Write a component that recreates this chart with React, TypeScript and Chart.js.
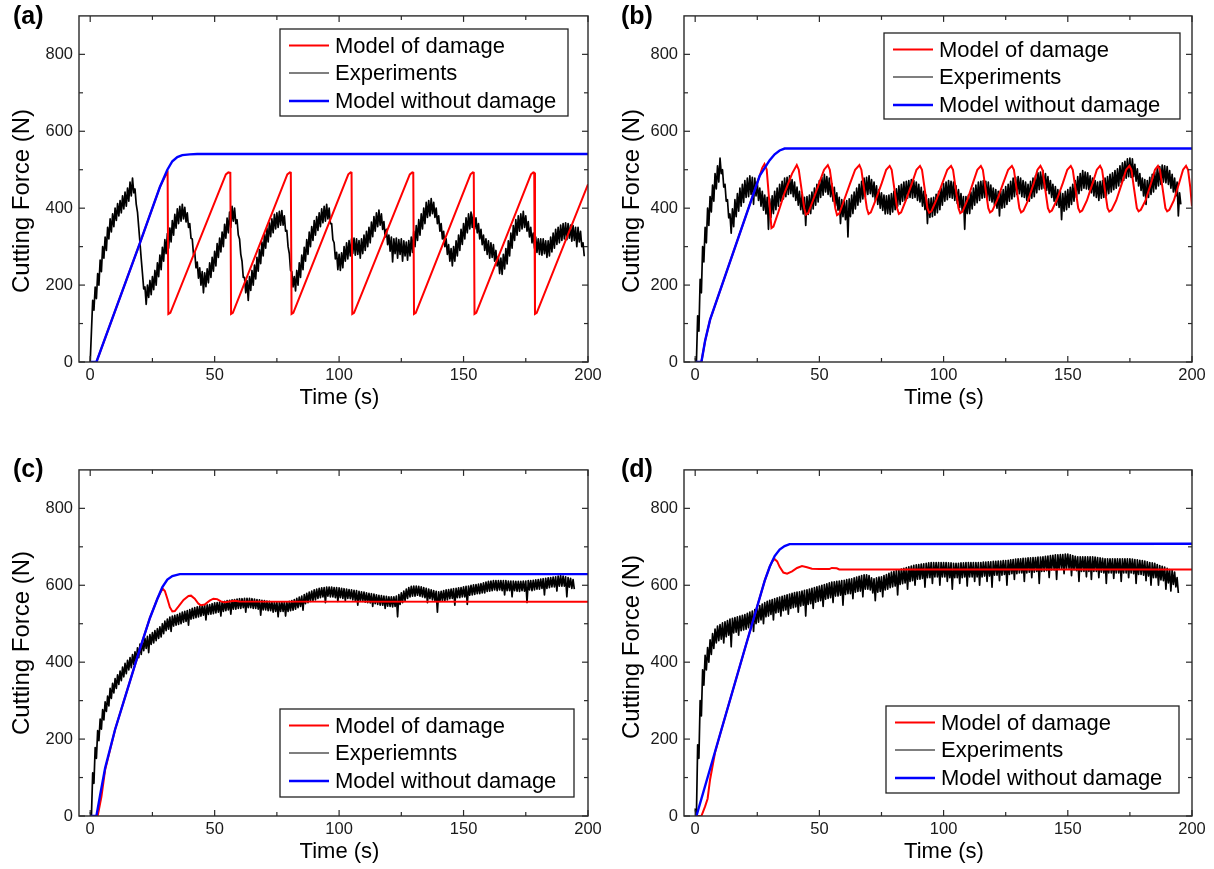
import React, { useEffect, useRef } from "react";
import { Chart, registerables } from "chart.js";

Chart.register(...registerables);

// ---------- axes ----------
const X_MIN = -4.5;
const X_MAX = 200;
const Y_MIN = 0;
const Y_MAX = 900;
const xMajorTicks = [0, 50, 100, 150, 200];
const xMinorTicks = [25, 75, 125, 175];
const yMajorTicks = [0, 200, 400, 600, 800];
const yMinorTicks = [100, 300, 500, 700];

const xTitle = "Time (s)";
const yTitle = "Cutting Force (N)";
const panelTags = ["(a)", "(b)", "(c)", "(d)"];
const labelsABD = ["Model of damage", "Experiments", "Model without damage"];
const labelsC = ["Model of damage", "Experiemnts", "Model without damage"];

// ---------- experiments: noisy trace read every 0.5 s from t = 0 ----------
const expStep = 0.5;
const expA = [
  0, 80, 160, 135, 195, 165, 230, 200, 265, 235, 300, 270, 325, 290, 350, 320, 372, 338, 385, 352,
  400, 368, 412, 380, 420, 388, 432, 398, 442, 405, 452, 418, 468, 432, 478, 440, 450, 410, 390, 350,
  310, 268, 230, 190, 195, 150, 200, 168, 212, 175, 222, 188, 238, 200, 258, 222, 278, 240, 298, 262,
  318, 282, 334, 296, 348, 312, 368, 330, 384, 348, 398, 360, 405, 366, 410, 372, 402, 364, 388, 350,
  360, 322, 320, 280, 285, 245, 260, 218, 245, 200, 235, 180, 232, 196, 242, 206, 258, 220, 272, 236,
  288, 250, 308, 272, 322, 286, 338, 300, 358, 322, 374, 336, 390, 350, 405, 366, 400, 360, 370, 330,
  320, 280, 262, 220, 220, 180, 212, 160, 222, 186, 238, 200, 252, 216, 272, 236, 292, 256, 312, 276,
  332, 296, 348, 312, 362, 326, 372, 336, 384, 346, 388, 350, 392, 356, 394, 356, 380, 340, 342, 300,
  282, 238, 235, 195, 222, 185, 238, 200, 258, 220, 278, 240, 298, 262, 318, 280, 338, 300, 352, 316,
  368, 330, 378, 342, 388, 352, 398, 362, 405, 366, 410, 372, 400, 360, 360, 318, 310, 268, 285, 240,
  280, 238, 284, 245, 300, 262, 310, 268, 316, 276, 320, 282, 322, 278, 320, 280, 316, 270, 320, 282,
  330, 290, 340, 300, 350, 310, 364, 326, 378, 340, 388, 352, 395, 356, 385, 345, 365, 325, 345, 305,
  330, 288, 325, 260, 320, 282, 322, 270, 318, 280, 320, 262, 315, 276, 312, 265, 316, 276, 325, 285,
  340, 300, 355, 316, 370, 330, 385, 346, 400, 360, 415, 376, 420, 380, 425, 386, 415, 376, 400, 360,
  380, 340, 360, 320, 340, 300, 320, 280, 305, 262, 295, 250, 300, 262, 315, 276, 330, 290, 345, 306,
  360, 320, 375, 336, 385, 346, 390, 350, 385, 346, 375, 336, 360, 320, 345, 305, 330, 290, 320, 280,
  315, 270, 310, 272, 305, 262, 290, 250, 275, 230, 270, 228, 280, 242, 295, 255, 315, 276, 335, 296,
  355, 316, 370, 330, 380, 340, 385, 346, 392, 350, 380, 340, 365, 325, 350, 310, 335, 296, 325, 285,
  320, 280, 320, 278, 320, 282, 315, 272, 315, 276, 325, 286, 335, 296, 345, 306, 350, 310, 356, 316,
  360, 320, 362, 318, 360, 322, 356, 314, 355, 316, 350, 300, 350, 312, 340, 300, 310, 275,
];
const expB = [
  10, 0, 120, 80, 215, 180, 300, 260, 350, 310, 400, 355, 430, 390, 460, 418, 490, 450, 510, 468,
  530, 490, 500, 455, 462, 418, 422, 375, 385, 335, 398, 352, 422, 378, 438, 392, 452, 405, 462, 415,
  472, 428, 478, 430, 484, 436, 480, 410, 478, 432, 468, 420, 452, 405, 444, 395, 434, 385, 428, 345,
  424, 376, 432, 386, 444, 396, 452, 405, 462, 418, 470, 424, 478, 430, 480, 436, 484, 438, 474, 430,
  468, 420, 455, 408, 444, 396, 435, 385, 428, 355, 430, 384, 434, 386, 442, 398, 452, 408, 462, 416,
  472, 428, 480, 434, 488, 442, 482, 436, 478, 430, 464, 418, 454, 406, 440, 395, 428, 360, 422, 378,
  418, 370, 420, 325, 424, 378, 434, 386, 442, 398, 452, 408, 462, 416, 470, 424, 478, 430, 480, 436,
  484, 438, 474, 430, 468, 420, 458, 410, 448, 400, 440, 394, 434, 385, 432, 386, 434, 384, 438, 390,
  444, 396, 450, 405, 458, 410, 462, 418, 468, 420, 470, 426, 472, 428, 474, 426, 472, 428, 468, 420,
  462, 416, 454, 405, 444, 396, 434, 360, 424, 376, 426, 378, 428, 382, 436, 388, 444, 396, 452, 408,
  464, 418, 468, 422, 472, 428, 470, 426, 468, 420, 458, 412, 448, 402, 438, 392, 430, 345, 430, 386,
  434, 386, 442, 398, 452, 408, 460, 414, 468, 420, 470, 426, 472, 428, 470, 424, 468, 420, 460, 416,
  452, 408, 448, 400, 444, 380, 444, 400, 448, 402, 456, 410, 462, 418, 470, 424, 478, 430, 480, 436,
  482, 438, 478, 430, 472, 428, 468, 420, 462, 418, 470, 426, 478, 430, 484, 440, 492, 448, 494, 450,
  498, 452, 490, 446, 482, 438, 472, 428, 462, 418, 456, 408, 448, 402, 444, 370, 438, 392, 444, 396,
  448, 402, 454, 410, 462, 418, 472, 428, 482, 438, 490, 446, 498, 452, 494, 450, 492, 448, 484, 440,
  478, 432, 472, 428, 468, 420, 470, 426, 472, 428, 478, 432, 482, 438, 488, 442, 492, 448, 498, 452,
  502, 458, 510, 466, 518, 472, 522, 478, 528, 482, 530, 480, 528, 482, 514, 470, 502, 458, 490, 446,
  478, 432, 474, 410, 472, 428, 480, 436, 488, 442, 494, 450, 502, 458, 508, 462, 512, 468, 510, 466,
  508, 462, 498, 452, 488, 442, 478, 432, 468, 380, 440, 410,
];
const expC = [
  10, 0, 112, 85, 178, 150, 222, 196, 252, 226, 277, 250, 297, 272, 312, 286, 332, 306, 345, 320,
  357, 332, 367, 342, 377, 352, 387, 362, 397, 370, 405, 380, 412, 386, 420, 394, 427, 402, 437, 412,
  447, 420, 455, 430, 462, 436, 467, 425, 472, 446, 477, 450, 482, 456, 487, 462, 492, 466, 500, 474,
  507, 482, 512, 486, 517, 480, 520, 494, 522, 496, 524, 498, 527, 500, 530, 504, 532, 506, 534, 496,
  537, 512, 540, 514, 542, 516, 544, 518, 546, 520, 547, 522, 548, 510, 549, 524, 550, 525, 552, 526,
  554, 528, 555, 530, 556, 520, 557, 532, 558, 534, 560, 536, 561, 525, 562, 538, 563, 538, 564, 540,
  565, 540, 565, 542, 566, 530, 566, 542, 566, 542, 565, 540, 564, 540, 563, 538, 562, 522, 561, 536,
  560, 536, 559, 534, 558, 534, 557, 530, 556, 532, 556, 518, 556, 532, 557, 532, 557, 520, 557, 532,
  558, 534, 560, 535, 563, 538, 566, 542, 569, 545, 572, 535, 576, 552, 579, 555, 582, 558, 585, 560,
  588, 562, 590, 566, 592, 568, 593, 570, 594, 555, 595, 572, 595, 570, 595, 570, 594, 568, 594, 558,
  593, 568, 592, 566, 591, 560, 590, 566, 589, 565, 588, 562, 587, 560, 586, 548, 584, 560, 583, 558,
  582, 556, 580, 555, 579, 554, 578, 545, 577, 552, 575, 550, 574, 548, 573, 548, 572, 540, 571, 546,
  570, 545, 570, 544, 570, 545, 572, 518, 576, 550, 580, 555, 585, 560, 590, 566, 594, 570, 597, 572,
  598, 572, 598, 574, 597, 572, 596, 570, 594, 568, 592, 555, 590, 565, 588, 562, 586, 560, 584, 530,
  583, 558, 584, 560, 586, 560, 588, 562, 589, 565, 590, 566, 591, 548, 592, 568, 593, 568, 594, 570,
  596, 570, 597, 550, 598, 574, 600, 575, 601, 576, 602, 578, 603, 578, 604, 580, 606, 580, 608, 584,
  610, 585, 611, 586, 612, 588, 612, 586, 612, 588, 612, 586, 612, 575, 612, 586, 611, 586, 611, 570,
  611, 586, 610, 585, 610, 584, 610, 586, 611, 585, 611, 555, 612, 588, 612, 586, 613, 588, 614, 590,
  615, 590, 616, 592, 617, 575, 618, 592, 619, 594, 620, 596, 621, 596, 622, 585, 624, 598, 625, 598,
  624, 598, 622, 570, 620, 595, 618, 592, 615, 590,
];
const expD = [
  20, 0, 185, 150, 300, 260, 380, 340, 418, 380, 438, 400, 458, 420, 474, 436, 486, 450, 494, 456,
  498, 460, 502, 450, 505, 466, 508, 470, 512, 440, 514, 476, 516, 478, 518, 470, 520, 482, 522, 484,
  524, 486, 527, 490, 530, 492, 533, 480, 537, 500, 541, 504, 547, 510, 551, 500, 555, 518, 558, 520,
  561, 524, 563, 510, 565, 528, 567, 530, 569, 520, 571, 534, 573, 536, 575, 525, 577, 540, 579, 542,
  581, 544, 582, 530, 583, 546, 585, 548, 587, 520, 588, 550, 590, 552, 592, 540, 594, 556, 596, 558,
  598, 560, 600, 545, 602, 564, 604, 566, 606, 568, 608, 555, 609, 572, 610, 572, 611, 574, 612, 548,
  613, 576, 615, 578, 616, 578, 617, 565, 619, 582, 621, 584, 623, 585, 625, 570, 627, 590, 627, 590,
  625, 588, 619, 580, 617, 560, 619, 582, 621, 584, 622, 570, 625, 588, 628, 590, 631, 594, 634, 596,
  636, 598, 638, 575, 640, 602, 642, 604, 644, 606, 646, 590, 648, 610, 650, 612, 652, 600, 653, 616,
  654, 616, 655, 618, 656, 595, 657, 620, 658, 620, 659, 605, 659, 622, 659, 622, 659, 600, 659, 622,
  659, 622, 659, 610, 658, 620, 658, 590, 657, 620, 657, 620, 657, 605, 658, 620, 658, 622, 659, 598,
  659, 622, 659, 622, 659, 610, 659, 622, 659, 600, 659, 622, 660, 624, 660, 610, 661, 624, 661, 595,
  662, 626, 662, 626, 663, 612, 663, 626, 664, 628, 664, 600, 665, 628, 666, 630, 667, 615, 668, 630,
  669, 632, 669, 632, 670, 610, 670, 632, 671, 634, 671, 620, 672, 634, 672, 636, 673, 605, 673, 636,
  674, 636, 675, 638, 676, 620, 677, 640, 678, 640, 679, 615, 679, 642, 680, 642, 680, 630, 681, 644,
  681, 644, 679, 625, 677, 640, 675, 638, 674, 610, 674, 636, 674, 636, 674, 622, 674, 636, 674, 615,
  674, 636, 673, 636, 672, 620, 671, 634, 670, 632, 669, 605, 669, 632, 669, 632, 669, 618, 669, 632,
  669, 632, 669, 610, 669, 632, 669, 632, 669, 620, 669, 632, 668, 630, 667, 605, 666, 628, 665, 628,
  664, 626, 663, 612, 661, 624, 659, 600, 658, 620, 657, 620, 654, 600, 651, 614, 649, 612, 647, 590,
  644, 606, 641, 585, 639, 602, 634, 596, 620, 580,
];

// ---------- models, [time s, force N] ----------
const noDamageA: [number, number][] = [
  [0, 0], [2.5, 0], [10, 133], [20, 310], [28, 455], [31, 500], [33, 522],
  [35, 533], [37, 538], [40, 540], [43, 541], [200, 541],
];
const damageA: [number, number][] = [
  [0, 0], [2.5, 0], [10, 133], [20, 310], [28, 455], [30.5, 488], [31.1, 492],
  [31.4, 125], [32.2, 128], [54.5, 488], [55.5, 493], [56.3, 492],
  [56.6, 125], [57.3, 128], [79.2, 488], [80.2, 493], [80.6, 492],
  [80.9, 125], [81.6, 128], [103.7, 488], [104.6, 493], [105.0, 492],
  [105.3, 125], [106, 128], [128.4, 488], [129.4, 493], [129.8, 492],
  [130.1, 125], [130.8, 128], [152.8, 488], [153.7, 493], [154.1, 492],
  [154.4, 125], [155.1, 128], [177.1, 488], [178, 493], [178.4, 492],
  [178.7, 125], [179.4, 128], [200, 462],
];
const noDamageB: [number, number][] = [
  [0, 0], [2.5, 0], [4, 55], [6, 110], [26, 485], [28, 505], [30, 525],
  [32, 540], [34, 550], [36, 555], [200, 555],
];
const damageB: [number, number][] = [
  [0, 0], [2.5, 0], [4, 55], [6, 110], [26, 485], [27, 505], [27.9, 515],
  [28.8, 500], [29.8, 420], [30.7, 348], [31.5, 352], [33.5, 390], [36, 440], [39, 490], [40.9, 512],
  [41.7, 500], [42.9, 445], [43.9, 400], [44.6, 383], [45.5, 387], [47.4, 420], [49.9, 465], [51.9, 500], [53.4, 512],
  [54.2, 500], [55.4, 445], [56.4, 400], [57.1, 382], [58, 386], [59.9, 420], [62.4, 465], [64.4, 500], [66.1, 512],
  [66.9, 500], [68.1, 445], [69.1, 400], [69.8, 385], [70.7, 389], [72.6, 420], [75.1, 465], [76.9, 500], [78.3, 510],
  [79.1, 500], [80.3, 445], [81.3, 400], [82, 385], [82.9, 389], [84.8, 420], [87.3, 465], [89.1, 500], [90.5, 510],
  [91.3, 500], [92.5, 445], [93.5, 400], [94.2, 388], [95.1, 392], [97, 420], [99.5, 465], [101.5, 500], [103, 510],
  [103.8, 500], [105, 445], [106, 400], [106.7, 387], [107.6, 391], [109.5, 420], [111.8, 465], [113.6, 500], [115, 510],
  [115.8, 500], [117, 445], [118, 400], [118.7, 389], [119.6, 393], [121.5, 420], [124, 465], [126, 500], [127.5, 510],
  [128.3, 500], [129.5, 445], [130.5, 400], [131.2, 389], [132.1, 393], [134, 420], [136.3, 465], [137.8, 500], [139, 510],
  [139.8, 500], [141, 445], [142, 400], [142.7, 390], [143.6, 394], [145.5, 420], [148, 465], [149.8, 500], [151.2, 510],
  [152, 500], [153.2, 445], [154.2, 400], [154.9, 390], [155.8, 394], [157.7, 420], [160, 465], [161.7, 500], [163, 510],
  [163.8, 500], [165, 445], [166, 400], [166.7, 391], [167.6, 395], [169.5, 420], [171.8, 465], [173.5, 500], [174.8, 510],
  [175.6, 500], [176.8, 445], [177.8, 400], [178.5, 392], [179.4, 396], [181.3, 420], [183.5, 465], [185.1, 500], [186.3, 510],
  [187.1, 500], [188.3, 445], [189.3, 400], [190, 392], [190.9, 396], [192.7, 420], [194.8, 465], [196.4, 500], [197.6, 510],
  [198.4, 500], [199.3, 455], [200, 405],
];
const noDamageC: [number, number][] = [
  [0, 0], [2.5, 0], [4, 55], [6, 125], [10, 225], [15, 330], [20, 435],
  [24, 515], [27, 565], [29, 595], [31, 615], [33, 624], [36, 629], [200, 629],
];
const damageC: [number, number][] = [
  [0, 0], [3, 0], [4.5, 50], [6, 120], [10, 225], [15, 330], [20, 435],
  [24, 515], [27, 565], [28.5, 585], [29.3, 590], [30, 585], [31, 565],
  [32, 543], [33, 532], [34, 533], [35.5, 545], [37.5, 562], [39.5, 572],
  [40.5, 573], [42, 565], [43.5, 552], [44.5, 548], [46, 550], [48, 560],
  [49.5, 565], [51, 564], [52.5, 558], [54, 556], [56, 558], [58, 560],
  [60, 558], [200, 557],
];
const noDamageD: [number, number][] = [
  [0, 0], [0.5, 0], [10, 212], [20, 435], [28, 612], [30, 648], [32, 676],
  [34, 693], [36, 702], [38, 707], [200, 708],
];
const damageD: [number, number][] = [
  [0, 0], [2.5, 0], [4, 25], [5, 45], [6, 95], [8, 165], [10, 212],
  [20, 435], [28, 612], [30, 648], [31, 662], [32, 668], [33, 662],
  [34, 648], [35.5, 633], [37, 630], [39, 636], [41, 645], [43, 650],
  [45, 647], [47, 643], [50, 642], [54, 642], [55, 645], [57, 644],
  [58, 641], [200, 641],
];

const PANEL_DATA = [
  { tag: panelTags[0], labels: labelsABD, exp: expA, damage: damageA, noDamage: noDamageA },
  { tag: panelTags[1], labels: labelsABD, exp: expB, damage: damageB, noDamage: noDamageB },
  { tag: panelTags[2], labels: labelsC, exp: expC, damage: damageC, noDamage: noDamageC },
  { tag: panelTags[3], labels: labelsABD, exp: expD, damage: damageD, noDamage: noDamageD },
];

// ---------- layout / style ----------
const FONT = '"Liberation Sans", Arial, Helvetica, sans-serif';
const RED = "#ff0000";
const BLACK = "#000000";
const BLUE = "#0000ff";
const FRAME = "#2a2a2a";
const PLOT_TOP = 10;
const PLOT_BOTTOM = 362;
const LEGEND_ROWS = [16.5, 44, 72];
const LEGEND_LINE_W = [2.2, 1.2, 2.6];

const PANEL_LAYOUT = [
  { left: 0, top: 0, width: 607, height: 430, plotLeft: 79, padRight: 19, yTitleX: 22, yTitleShift: 12, tagX: 13, tagY: 17,
    legend: { left: 280, top: 29, width: 288, height: 87 } },
  { left: 607, top: 0, width: 607, height: 430, plotLeft: 77, padRight: 22, yTitleX: 25, yTitleShift: 12, tagX: 14, tagY: 17,
    legend: { left: 277, top: 33, width: 296, height: 86 } },
  { left: 0, top: 454, width: 607, height: 415, plotLeft: 79, padRight: 19, yTitleX: 22, yTitleShift: 0, tagX: 13, tagY: 16,
    legend: { left: 280, top: 255, width: 294, height: 88 } },
  { left: 607, top: 454, width: 607, height: 415, plotLeft: 77, padRight: 22, yTitleX: 25, yTitleShift: 4, tagX: 14, tagY: 16,
    legend: { left: 279, top: 252, width: 293, height: 87 } },
];

function makeDecor(idx: number) {
  const L = PANEL_LAYOUT[idx];
  const D = PANEL_DATA[idx];
  return {
    id: "decor",
    afterDatasetsDraw(chart: any) {
      const ctx: CanvasRenderingContext2D = chart.ctx;
      const { left, right, top, bottom } = chart.chartArea;
      const xs = chart.scales.x;
      const ys = chart.scales.y;
      const seg = (x1: number, y1: number, x2: number, y2: number) => {
        ctx.beginPath();
        ctx.moveTo(x1, y1);
        ctx.lineTo(x2, y2);
        ctx.stroke();
      };
      ctx.save();
      // frame
      ctx.strokeStyle = FRAME;
      ctx.lineWidth = 1.4;
      ctx.strokeRect(left, top, right - left, bottom - top);
      // inward ticks on all sides
      ctx.lineWidth = 1.2;
      const tick = (vals: number[], len: number) => {
        vals.forEach((v) => {
          const px = xs.getPixelForValue(v);
          seg(px, bottom, px, bottom - len);
          seg(px, top, px, top + len);
        });
      };
      const ytick = (vals: number[], len: number) => {
        vals.forEach((v) => {
          const py = ys.getPixelForValue(v);
          seg(left, py, left + len, py);
          seg(right, py, right - len, py);
        });
      };
      tick(xMajorTicks, 6);
      tick(xMinorTicks, 4);
      ytick(yMajorTicks, 6);
      ytick(yMinorTicks, 4);

      // axis titles
      ctx.fillStyle = "#000";
      ctx.textAlign = "center";
      ctx.textBaseline = "middle";
      ctx.font = `22px ${FONT}`;
      ctx.fillText(xTitle, (left + right) / 2 + 6, bottom + 36);
      ctx.save();
      ctx.translate(L.yTitleX, (top + bottom) / 2 + L.yTitleShift);
      ctx.rotate(-Math.PI / 2);
      ctx.font = `24px ${FONT}`;
      ctx.fillText(yTitle, 0, 0);
      ctx.restore();

      // panel tag
      ctx.font = `bold 25px ${FONT}`;
      ctx.textAlign = "left";
      ctx.fillText(D.tag, L.tagX, L.tagY);

      // legend
      const lg = L.legend;
      ctx.fillStyle = "#fff";
      ctx.fillRect(lg.left, lg.top, lg.width, lg.height);
      ctx.strokeStyle = "#222";
      ctx.lineWidth = 1.3;
      ctx.strokeRect(lg.left, lg.top, lg.width, lg.height);
      ctx.font = `22px ${FONT}`;
      ctx.textAlign = "left";
      ctx.textBaseline = "middle";
      chart.data.datasets.forEach((ds: any, i: number) => {
        const y = lg.top + LEGEND_ROWS[i];
        ctx.strokeStyle = ds.borderColor;
        ctx.lineWidth = LEGEND_LINE_W[i];
        seg(lg.left + 9, y, lg.left + 49, y);
        ctx.fillStyle = "#000";
        ctx.fillText(ds.label, lg.left + 55, y + 1);
      });
      ctx.restore();
    },
  };
}

function buildConfig(idx: number): any {
  const L = PANEL_LAYOUT[idx];
  const D = PANEL_DATA[idx];
  const tickFont = { family: FONT, size: 16.5 };
  return {
    type: "line",
    data: {
      datasets: [
        {
          label: D.labels[0],
          data: D.damage.map(([x, y]) => ({ x, y })),
          borderColor: RED,
          backgroundColor: RED,
          borderWidth: 2,
          pointRadius: 0,
          tension: 0,
          order: 1,
        },
        {
          label: D.labels[1],
          data: D.exp.map((y, i) => ({ x: i * expStep, y })),
          borderColor: BLACK,
          backgroundColor: BLACK,
          borderWidth: 1.7,
          borderJoinStyle: "round",
          pointRadius: 0,
          tension: 0,
          order: 2,
        },
        {
          label: D.labels[2],
          data: D.noDamage.map(([x, y]) => ({ x, y })),
          borderColor: BLUE,
          backgroundColor: BLUE,
          borderWidth: 2.4,
          pointRadius: 0,
          tension: 0,
          order: 0,
        },
      ],
    },
    options: {
      animation: false,
      responsive: false,
      maintainAspectRatio: false,
      parsing: false,
      events: [],
      layout: { padding: { top: PLOT_TOP, right: L.padRight, left: 0, bottom: 0 } },
      plugins: { legend: { display: false }, tooltip: { enabled: false }, title: { display: false } },
      scales: {
        x: {
          type: "linear",
          min: X_MIN,
          max: X_MAX,
          afterBuildTicks: (s: any) => {
            s.ticks = xMajorTicks.map((v) => ({ value: v }));
          },
          afterFit: (s: any) => {
            s.height = L.height - PLOT_BOTTOM;
          },
          grid: { display: false, drawTicks: false },
          border: { display: false },
          ticks: { font: tickFont, color: "#1a1a1a", padding: 4, maxRotation: 0, autoSkip: false },
        },
        y: {
          type: "linear",
          min: Y_MIN,
          max: Y_MAX,
          afterBuildTicks: (s: any) => {
            s.ticks = yMajorTicks.map((v) => ({ value: v }));
          },
          afterFit: (s: any) => {
            s.width = L.plotLeft;
          },
          grid: { display: false, drawTicks: false },
          border: { display: false },
          ticks: { font: tickFont, color: "#1a1a1a", padding: 6, autoSkip: false },
        },
      },
    },
    plugins: [makeDecor(idx)],
  };
}

function Panel({ idx }: { idx: number }) {
  const ref = useRef<HTMLCanvasElement>(null);
  const L = PANEL_LAYOUT[idx];
  useEffect(() => {
    if (!ref.current) return;
    const chart = new Chart(ref.current, buildConfig(idx));
    return () => chart.destroy();
  }, [idx]);
  return (
    <canvas
      ref={ref}
      width={L.width}
      height={L.height}
      style={{ position: "absolute", left: L.left, top: L.top, width: L.width, height: L.height }}
    />
  );
}

export default function App() {
  return (
    <div
      style={{
        position: "fixed",
        left: 0,
        top: 0,
        width: 1214,
        height: 869,
        background: "#fff",
        overflow: "hidden",
      }}
    >
      {[0, 1, 2, 3].map((i) => (
        <Panel key={i} idx={i} />
      ))}
    </div>
  );
}
